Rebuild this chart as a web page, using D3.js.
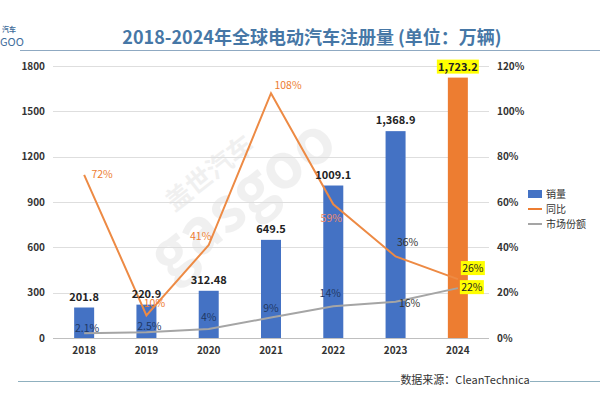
<!DOCTYPE html>
<html><head><meta charset="utf-8">
<script src="https://cdn.jsdelivr.net/npm/d3@7"></script>
<style>
html,body{margin:0;padding:0;background:#fff;}
text{font-family:"Noto Sans CJK SC","Noto Sans",sans-serif;}
</style></head>
<body><svg id="c" width="600" height="400"></svg>
<script>
const years = ["2018","2019","2020","2021","2022","2023","2024"];
const sales = [201.8, 220.9, 312.48, 649.5, 1009.1, 1368.9, 1723.2];
const salesLabels = ["201.8","220.9","312.48","649.5","1009.1","1,368.9","1,723.2"];
const yoy = [72, 10, 41, 108, 59, 36, 26];
const share = [2.1, 2.5, 4, 9, 14, 16, 22];
const shareLabels = ["2.1%","2.5%","4%","9%","14%","16%","22%"];
const leftTicks = [0,300,600,900,1200,1500,1800];
const rightTicks = [0,20,40,60,80,100,120];
const legendNames = ["销量","同比","市场份额"];

const svg = d3.select("#c");
const m = {l:53, r:489, t:66, b:338};
const x = d3.scaleBand().domain(years).range([m.l,m.r]).paddingInner(0).paddingOuter(0);
const yL = d3.scaleLinear().domain([0,1800]).range([m.b,m.t]);
const yR = d3.scaleLinear().domain([0,120]).range([m.b,m.t]);
const cx = d => x(d)+x.bandwidth()/2;

// Watermark
const wm = svg.append("g").attr("transform","translate(255,215) rotate(-38)").attr("opacity",0.1);
wm.append("text").attr("text-anchor","middle").attr("font-size",62).attr("font-family","DejaVu Sans").attr("font-weight","bold").attr("fill","#777").text("gasgoo");
wm.append("text").attr("x",-10).attr("y",-52).attr("text-anchor","middle").attr("font-size",26).attr("font-weight","bold").attr("fill","#777").text("盖世汽车");

// Title
svg.append("text").attr("x",312).attr("y",44).attr("text-anchor","middle")
  .attr("font-size",18).attr("font-weight","bold").attr("fill","#4677a6")
  .text("2018-2024年全球电动汽车注册量 (单位：万辆)");
svg.append("line").attr("x1",20).attr("x2",600).attr("y1",50.5).attr("y2",50.5).attr("stroke","#8fa9c2").attr("stroke-width",1.2);
// logo fragment
svg.append("text").attr("x",2).attr("y",32).attr("font-size",7).attr("fill","#3f6e9b").attr("font-weight","bold").text("汽车");
svg.append("text").attr("x",0).attr("y",46).attr("font-size",11).attr("fill","#3f6e9b").attr("font-family","Liberation Serif").text("GOO");

// gridlines
svg.append("g").selectAll("line").data(leftTicks).join("line")
  .attr("x1",m.l).attr("x2",m.r).attr("y1",d=>Math.round(yL(d))+0.5).attr("y2",d=>Math.round(yL(d))+0.5)
  .attr("stroke",d=>d===0?"#bfbfbf":"#dedede").attr("stroke-width",1);

// axes
const axL = d3.axisLeft(yL).tickValues(leftTicks).tickSize(0).tickPadding(8).tickFormat(d3.format("d"));
const gL = svg.append("g").attr("transform",`translate(${m.l},0)`).call(axL);
gL.select(".domain").remove();
gL.selectAll("text").attr("font-size",10).attr("font-weight","bold").attr("fill","#333").attr("font-family","Liberation Sans, Arial");
const axR = d3.axisRight(yR).tickValues(rightTicks).tickSize(0).tickPadding(8).tickFormat(d=>d+"%");
const gR = svg.append("g").attr("transform",`translate(${m.r},0)`).call(axR);
gR.select(".domain").remove();
gR.selectAll("text").attr("font-size",10).attr("font-weight","bold").attr("fill","#333").attr("font-family","Liberation Sans, Arial");
const axB = d3.axisBottom(x).tickSize(0).tickPadding(9);
const gB = svg.append("g").attr("transform",`translate(0,${m.b})`).call(axB);
gB.select(".domain").remove();
gB.selectAll("text").attr("font-size",10).attr("font-weight","bold").attr("fill","#333").attr("font-family","Liberation Sans, Arial");

// bars
const bw = 20;
svg.append("g").selectAll("rect").data(years).join("rect")
  .attr("x",d=>cx(d)-bw/2).attr("width",bw)
  .attr("y",(d,i)=>yL(sales[i])).attr("height",(d,i)=>m.b-yL(sales[i]))
  .attr("fill",(d,i)=>i===6?"#ed7d31":"#4472c4");

// lines
const lineYoy = d3.line().x((d,i)=>cx(years[i])).y(d=>yR(d));
svg.append("path").datum(yoy).attr("d",lineYoy).attr("fill","none").attr("stroke","#ed8a44").attr("stroke-width",2);
svg.append("path").datum(share).attr("d",lineYoy).attr("fill","none").attr("stroke","#a5a5a5").attr("stroke-width",2);

// bar labels
const bl = svg.append("g");
years.forEach((d,i)=>{
  const tx = cx(d), ty = yL(sales[i]) - 7;
  if(i===6){
    bl.append("rect").attr("x",tx-21).attr("y",ty-11).attr("width",42).attr("height",14).attr("fill","#ffff00");
  }
  bl.append("text").attr("x",tx).attr("y",ty).attr("text-anchor","middle")
    .attr("font-size",11).attr("font-weight","bold").attr("fill","#222").attr("font-family","Liberation Sans, Arial")
    .text(salesLabels[i]);
});

// yoy labels: offsets
const yoyPos = [[18,3,"#ed7d31"],[8,-8,"#ed7d31"],[-8,-5,"#ed7d31"],[17,-4,"#ed7d31"],[-2,18,"#f08c6c"],[12,-10,"#333"],[15,-7,"#222"]];
years.forEach((d,i)=>{
  const tx = cx(d)+yoyPos[i][0], ty = yR(yoy[i])+yoyPos[i][1];
  if(i===6){
    svg.append("rect").attr("x",tx-12).attr("y",ty-11).attr("width",24).attr("height",14).attr("fill","#ffff00");
  }
  svg.append("text").attr("x",tx).attr("y",ty).attr("text-anchor","middle")
    .attr("font-size",10.5).attr("fill",yoyPos[i][2]).attr("font-family","Liberation Sans, Arial")
    .text(yoy[i]+"%");
});

// share labels
const sharePos = [[3,-1,"#1f3864"],[3,-2,"#1f3864"],[0,-8,"#1f3864"],[0,-6,"#1f3864"],[-3,-9,"#1f3864"],[14,5,"#333"],[14,3,"#222"]];
years.forEach((d,i)=>{
  const tx = cx(d)+sharePos[i][0], ty = yR(share[i])+sharePos[i][1];
  if(i===6){
    svg.append("rect").attr("x",tx-12).attr("y",ty-11).attr("width",24).attr("height",14).attr("fill","#ffff00");
  }
  svg.append("text").attr("x",tx).attr("y",ty).attr("text-anchor","middle")
    .attr("font-size",10.5).attr("fill",sharePos[i][2]).attr("font-family","Liberation Sans, Arial")
    .text(shareLabels[i]);
});

// legend
const lg = svg.append("g").attr("transform","translate(528,194)");
legendNames.forEach((n,i)=>{
  const yy = i*15;
  if(i===0) lg.append("rect").attr("x",0).attr("y",yy-4).attr("width",14).attr("height",8).attr("fill","#4472c4");
  else lg.append("line").attr("x1",0).attr("x2",14).attr("y1",yy).attr("y2",yy).attr("stroke",i===1?"#ed7d31":"#a5a5a5").attr("stroke-width",2);
  lg.append("text").attr("x",18).attr("y",yy+4).attr("font-size",10).attr("fill","#333").text(n);
});

// footer
svg.append("line").attr("x1",18).attr("x2",400).attr("y1",381.5).attr("y2",381.5).attr("stroke","#8fb0bf").attr("stroke-width",1);
svg.append("line").attr("x1",530).attr("x2",600).attr("y1",381.5).attr("y2",381.5).attr("stroke","#8fb0bf").attr("stroke-width",1);
svg.append("text").attr("x",465).attr("y",384).attr("text-anchor","middle").attr("font-size",11).attr("fill","#333")
  .text("数据来源：CleanTechnica");
</script></body></html>
